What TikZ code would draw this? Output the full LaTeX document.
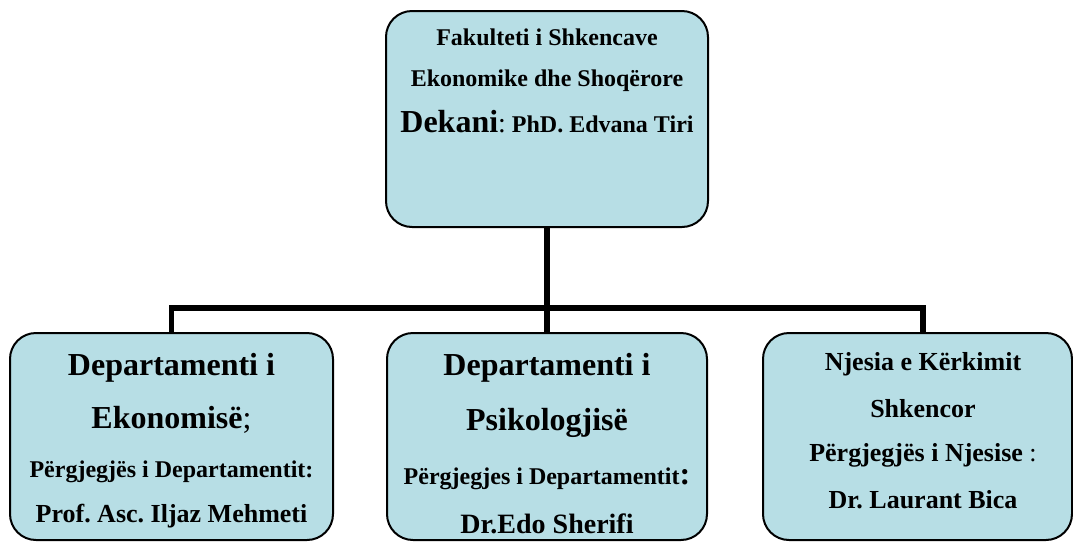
\documentclass[tikz,border=0pt]{standalone}
\usepackage{fontspec}
\setmainfont{Liberation Serif}
\usepackage{tikz}
\frenchspacing
\definecolor{unitblue}{RGB}{183,222,229}
\newcommand{\twelve}{\fontsize{12}{14}\selectfont}
\newcommand{\thirteen}{\fontsize{13}{15}\selectfont}
\newcommand{\fourteen}{\fontsize{14}{16}\selectfont}
\newcommand{\sixteen}{\fontsize{16}{19}\selectfont}
\tikzstyle{Unit}=[shape=rectangle, rounded corners=13pt, fill=unitblue, draw=black, line width=1pt, inner sep=0pt]
\tikzstyle{Line}=[anchor=base, inner sep=0pt, text=black, font=\bfseries\twelve]
\tikzstyle{link}=[line width=2.6pt, draw=black]
\pgfdeclarelayer{nodelayer}
\pgfdeclarelayer{edgelayer}
\pgfsetlayers{main, nodelayer, edgelayer}
\begin{document}
\begin{tikzpicture}[x=0.5pt, y=-0.5pt]
	\path [use as bounding box, fill=white] (0,0) rectangle (1073,542);
	\begin{pgfonlayer}{nodelayer}
		\node [style=Unit, minimum width=161pt, minimum height=108pt] (fakulteti) at (547,119) {};
		\node [style=Unit, minimum width=161.5pt, minimum height=103.5pt] (ekonomia) at (171.5,436.5) {};
		\node [style=Unit, minimum width=160pt, minimum height=103.5pt] (psikologjia) at (547,436.5) {};
		\node [style=Unit, minimum width=154.5pt, minimum height=103.5pt] (kerkimi) at (917.5,436.5) {};

		% faculty
		\node [style=Line] (fak1) at (547,45) {Fakulteti i Shkencave};
		\node [style=Line] (fak2) at (547,86) {Ekonomike dhe Shoqërore};
		\node [style=Line] (fak3) at (547,132) {{\sixteen Dekani}{\mdseries\fourteen :} PhD. Edvana Tiri};

		% departments
		\node [style=Line, font=\bfseries\sixteen] (eko1) at (171.5,375) {Departamenti i};
		\node [style=Line, font=\bfseries\sixteen] (eko2) at (171.5,428) {Ekonomisë{\mdseries ;}};
		\node [style=Line] (eko3) at (171.5,477) {Përgjegjës i Departamentit:};
		\node [style=Line, font=\bfseries\thirteen] (eko4) at (171.5,522) {Prof. Asc. Iljaz Mehmeti};

		\node [style=Line, font=\bfseries\sixteen] (psi1) at (547,375) {Departamenti i};
		\node [style=Line, font=\bfseries\sixteen] (psi2) at (547,430) {Psikologjisë};
		\node [style=Line] (psi3) at (547,484) {Përgjegjes i Departamentit{\sixteen :}};
		\node [style=Line, font=\bfseries\fourteen] (psi4) at (547,533) {Dr.Edo Sherifi};

		\node [style=Line, font=\bfseries\thirteen] (ker1) at (923,370) {Njesia e Kërkimit};
		\node [style=Line, font=\bfseries\thirteen] (ker2) at (923,417) {Shkencor};
		\node [style=Line, font=\bfseries\thirteen] (ker3) at (923,461) {Përgjegjës i Njesise{\mdseries\ :}};
		\node [style=Line, font=\bfseries\thirteen] (ker4) at (923,508) {Dr. Laurant Bica};
	\end{pgfonlayer}
	\begin{pgfonlayer}{edgelayer}
		\coordinate (bus) at (547,308);
		\coordinate (kerkimitop) at (923,333);
		\draw [style=link] (fakulteti.south) to (psikologjia.north);
		\draw [style=link] (ekonomia.north) |- (bus) -| (kerkimitop);
	\end{pgfonlayer}
\end{tikzpicture}
\end{document}
